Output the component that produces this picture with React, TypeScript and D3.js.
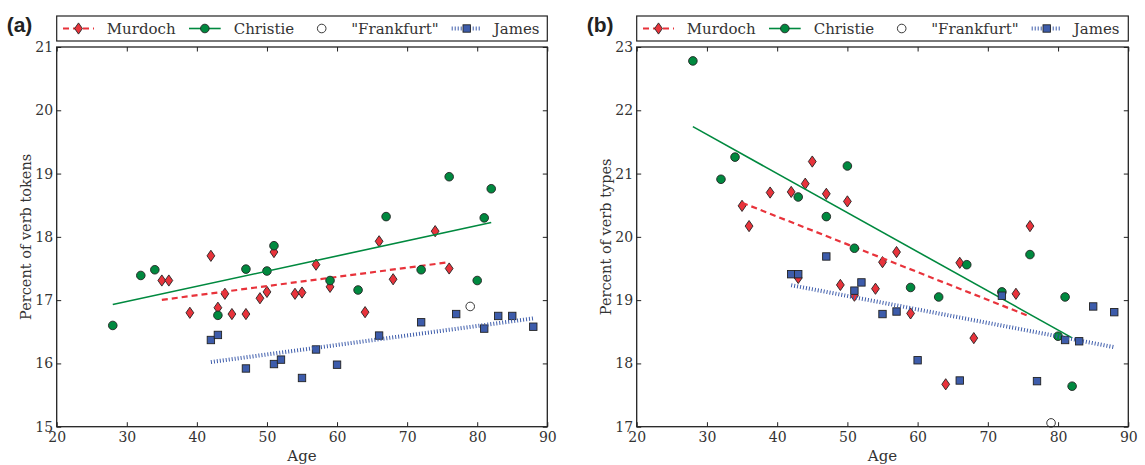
import React, { useRef, useEffect } from 'react'
import * as d3 from 'd3'

// Ages of each author's texts
const murdochAges = [35, 36, 39, 42, 43, 44, 45, 47, 49, 50, 51, 54, 55, 57, 59, 64, 66, 68, 74, 76]
const christieAges = [28, 32, 34, 43, 47, 50, 51, 59, 63, 67, 72, 76, 80, 81, 82]
const jamesAges = [42, 43, 47, 51, 52, 55, 57, 60, 66, 72, 77, 81, 83, 85, 88]
const frankfurtAges = [79]

// Panel (a): percent of verb tokens
const murdochTokens = [17.31, 17.31, 16.8, 17.7, 16.88, 17.1, 16.78, 16.78, 17.03, 17.13, 17.76, 17.1, 17.12, 17.56, 17.21, 16.81, 17.93, 17.33, 18.09, 17.5]
const christieTokens = [16.6, 17.39, 17.48, 16.76, 17.49, 17.46, 17.86, 17.31, 17.16, 18.32, 17.48, 18.95, 17.31, 18.3, 18.76]
const jamesTokens = [16.37, 16.45, 15.92, 15.99, 16.06, 15.77, 16.22, 15.98, 16.44, 16.65, 16.78, 16.55, 16.75, 16.75, 16.58]
const frankfurtTokens = [16.9]

// Panel (b): percent of verb types
const murdochTypes = [20.49, 20.17, 20.7, 20.71, 19.35, 20.84, 21.19, 20.68, 19.24, 20.56, 19.07, 19.18, 19.6, 19.76, 18.79, 17.67, 19.59, 18.4, 19.1, 20.17]
const christieTypes = [22.78, 20.91, 21.26, 20.63, 20.32, 21.12, 19.82, 19.2, 19.05, 19.56, 19.13, 19.72, 18.43, 19.05, 17.64]
const jamesTypes = [19.41, 19.41, 19.69, 19.15, 19.28, 18.78, 18.82, 18.05, 17.73, 19.07, 17.72, 18.37, 18.35, 18.9, 18.81]
const frankfurtTypes = [17.06]

const xTicks = [20, 30, 40, 50, 60, 70, 80, 90]
const tokenTicks = [15, 16, 17, 18, 19, 20, 21]
const typeTicks = [17, 18, 19, 20, 21, 22, 23]

const RED = '#e8333b'
const GREEN = '#00893f'
const BLUE = '#2e4f9e'
const EDGE = '#222'
const TEXT = '#333'
const SERIF = '"DejaVu Serif", serif'

type Marker = 'diamond' | 'circle' | 'open' | 'square'

interface Series {
  name: string
  ages: number[]
  values: number[]
  color: string
  marker: Marker
  fit: boolean
  dash: string
  lineWidth: number
}

interface PanelProps {
  tag: string
  yLabel: string
  yTicks: number[]
  series: Series[]
  left: number
  right: number
}

const TOP = 47
const BOTTOM = 426.7

// least squares fit y = a + b x
function fitLine(xs: number[], ys: number[]) {
  const mx = d3.mean(xs) || 0
  const my = d3.mean(ys) || 0
  let sxy = 0
  let sxx = 0
  xs.forEach((x, i) => {
    sxy += (x - mx) * (ys[i] - my)
    sxx += (x - mx) * (x - mx)
  })
  const b = sxy / sxx
  const a = my - b * mx
  return (x: number) => a + b * x
}

function drawMarker(g: d3.Selection<SVGGElement, unknown, null, undefined>, marker: Marker, color: string, x: number, y: number) {
  if (marker === 'diamond') {
    g.append('path')
      .attr('d', `M${x},${y - 5.6}L${x + 3.9},${y}L${x},${y + 5.6}L${x - 3.9},${y}Z`)
      .attr('fill', color)
      .attr('stroke', EDGE)
      .attr('stroke-width', 0.9)
  } else if (marker === 'circle' || marker === 'open') {
    g.append('circle')
      .attr('cx', x)
      .attr('cy', y)
      .attr('r', 4.3)
      .attr('fill', marker === 'open' ? '#fff' : color)
      .attr('stroke', EDGE)
      .attr('stroke-width', 0.9)
  } else {
    g.append('rect')
      .attr('x', x - 3.7)
      .attr('y', y - 3.7)
      .attr('width', 7.4)
      .attr('height', 7.4)
      .attr('fill', color)
      .attr('stroke', EDGE)
      .attr('stroke-width', 0.9)
  }
}

const ScatterPanel: React.FC<PanelProps> = ({ tag, yLabel, yTicks, series, left, right }) => {
  const gRef = useRef<SVGGElement>(null)

  useEffect(() => {
    if (!gRef.current) return
    const root = d3.select(gRef.current)
    root.selectAll('*').remove()

    const xScale = d3.scaleLinear().domain([xTicks[0], xTicks[xTicks.length - 1]]).range([left, right])
    const yScale = d3.scaleLinear().domain([yTicks[0], yTicks[yTicks.length - 1]]).range([BOTTOM, TOP])

    // points and fit lines, series by series
    const marks = root.append('g')
    series.forEach(s => {
      s.ages.forEach((a, i) => drawMarker(marks, s.marker, s.color, xScale(a), yScale(s.values[i])))
      if (s.fit) {
        const f = fitLine(s.ages, s.values)
        const x0 = d3.min(s.ages) || 0
        const x1 = d3.max(s.ages) || 0
        marks
          .append('line')
          .attr('x1', xScale(x0))
          .attr('y1', yScale(f(x0)))
          .attr('x2', xScale(x1))
          .attr('y2', yScale(f(x1)))
          .attr('stroke', s.color)
          .attr('stroke-width', s.lineWidth)
          .attr('stroke-dasharray', s.dash)
      }
    })

    // axes with inward ticks on all four sides
    const styleAxis = (ax: d3.Selection<SVGGElement, unknown, null, undefined>) => {
      ax.select('.domain').remove()
      ax.selectAll('.tick line').attr('stroke', EDGE).attr('stroke-width', 1)
      ax.selectAll('.tick text').style('font-family', SERIF).style('font-size', '14px').attr('fill', TEXT)
    }

    root
      .append('g')
      .attr('transform', `translate(0,${BOTTOM})`)
      .call(d3.axisBottom(xScale).tickValues(xTicks).tickSizeInner(-4.5).tickSizeOuter(0).tickPadding(5.5))
      .call(styleAxis)
    root
      .append('g')
      .attr('transform', `translate(0,${TOP})`)
      .call(d3.axisTop(xScale).tickValues(xTicks).tickSizeInner(-4.5).tickSizeOuter(0).tickFormat(() => ''))
      .call(styleAxis)
    root
      .append('g')
      .attr('transform', `translate(${left},0)`)
      .call(d3.axisLeft(yScale).tickValues(yTicks).tickSizeInner(-4.5).tickSizeOuter(0).tickPadding(3.5).tickFormat(d3.format('d')))
      .call(styleAxis)
    root
      .append('g')
      .attr('transform', `translate(${right},0)`)
      .call(d3.axisRight(yScale).tickValues(yTicks).tickSizeInner(-4.5).tickSizeOuter(0).tickFormat(() => ''))
      .call(styleAxis)

    root
      .append('rect')
      .attr('x', left)
      .attr('y', TOP)
      .attr('width', right - left)
      .attr('height', BOTTOM - TOP)
      .attr('fill', 'none')
      .attr('stroke', EDGE)
      .attr('stroke-width', 1.3)

    // axis titles
    root
      .append('text')
      .attr('x', (left + right) / 2)
      .attr('y', 461)
      .attr('text-anchor', 'middle')
      .style('font-family', SERIF)
      .style('font-size', '15px')
      .attr('fill', TEXT)
      .text('Age')
    root
      .append('text')
      .attr('transform', `translate(${left - 26},${(TOP + BOTTOM) / 2}) rotate(-90)`)
      .attr('text-anchor', 'middle')
      .style('font-family', SERIF)
      .style('font-size', '14.5px')
      .attr('fill', TEXT)
      .text(yLabel)

    // panel tag
    root
      .append('text')
      .attr('x', left - 50)
      .attr('y', 32)
      .style('font-family', '"Liberation Sans", Arial, sans-serif')
      .style('font-size', '21px')
      .style('font-weight', 'bold')
      .attr('fill', '#222')
      .text(tag)

    // legend
    const legend = root.append('g').attr('transform', `translate(${left},16)`)
    legend
      .append('rect')
      .attr('width', right - left)
      .attr('height', 25)
      .attr('fill', '#fff')
      .attr('stroke', EDGE)
      .attr('stroke-width', 1.2)
    const cy = 12.5
    const slots = [
      { h0: 6.3, h1: 37.3, text: 50 },
      { h0: 132.3, h1: 164, text: 177 },
      { h0: 250, h1: 280, text: 294.5 },
      { h0: 395, h1: 425, text: 437 },
    ]
    series.forEach((s, i) => {
      const slot = slots[i]
      if (s.fit) {
        legend
          .append('line')
          .attr('x1', slot.h0)
          .attr('x2', slot.h1)
          .attr('y1', cy)
          .attr('y2', cy)
          .attr('stroke', s.color)
          .attr('stroke-width', s.lineWidth)
          .attr('stroke-dasharray', s.dash)
      }
      drawMarker(legend, s.marker, s.color, (slot.h0 + slot.h1) / 2, cy)
      legend
        .append('text')
        .attr('x', slot.text)
        .attr('y', cy + 5.4)
        .style('font-family', SERIF)
        .style('font-size', '15px')
        .attr('fill', TEXT)
        .text(s.name)
    })
  }, [tag, yLabel, yTicks, series, left, right])

  return <g ref={gRef} />
}

const makeSeries = (m: number[], c: number[], f: number[], j: number[]): Series[] => [
  { name: 'Murdoch', ages: murdochAges, values: m, color: RED, marker: 'diamond', fit: true, dash: '6,4', lineWidth: 2.2 },
  { name: 'Christie', ages: christieAges, values: c, color: GREEN, marker: 'circle', fit: true, dash: 'none', lineWidth: 1.6 },
  { name: '"Frankfurt"', ages: frankfurtAges, values: f, color: '#fff', marker: 'open', fit: false, dash: 'none', lineWidth: 1 },
  { name: 'James', ages: jamesAges, values: j, color: '#3d5cab', marker: 'square', fit: true, dash: '1,2', lineWidth: 4 },
]

const tokenSeries = makeSeries(murdochTokens, christieTokens, frankfurtTokens, jamesTokens)
const typeSeries = makeSeries(murdochTypes, christieTypes, frankfurtTypes, jamesTypes)

export default function App() {
  return (
    <svg width={1145} height={465} style={{ position: 'absolute', left: 0, top: 0, background: '#fff' }}>
      <ScatterPanel tag="(a)" yLabel="Percent of verb tokens" yTicks={tokenTicks} series={tokenSeries} left={56.7} right={547.3} />
      <ScatterPanel tag="(b)" yLabel="Percent of verb types" yTicks={typeTicks} series={typeSeries} left={636.7} right={1128.3} />
    </svg>
  )
}
